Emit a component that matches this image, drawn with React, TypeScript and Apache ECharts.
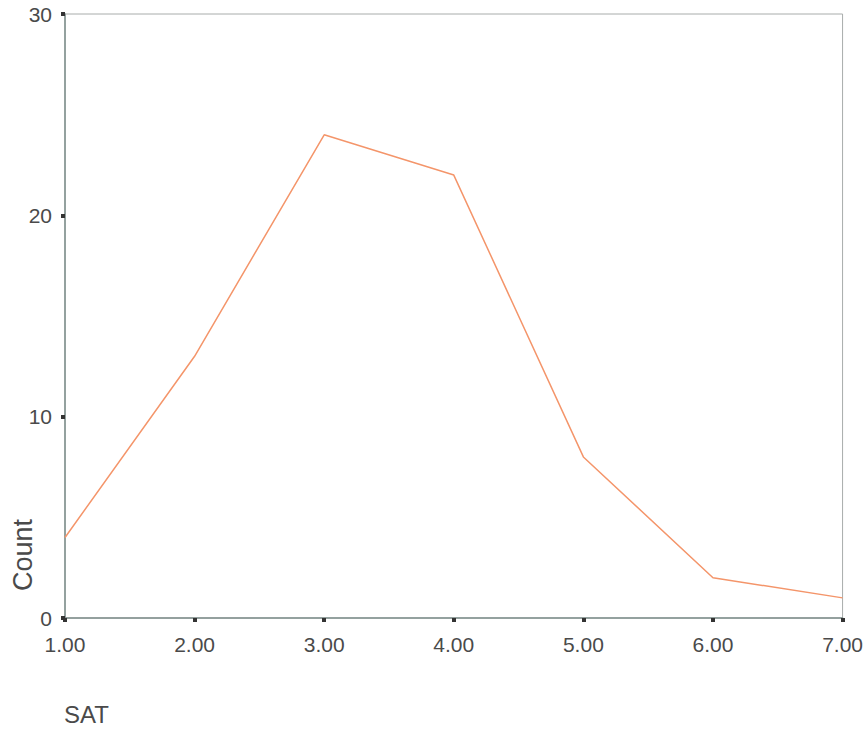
import React, { useEffect, useRef } from "react";
import * as echarts from "echarts";

const satValues = [1, 2, 3, 4, 5, 6, 7];
const counts = [4, 13, 24, 22, 8, 2, 1];
const xAxisTitle = "SAT";
const yAxisTitle = "Count";

export default function App() {
  const ref = useRef<HTMLDivElement>(null);
  useEffect(() => {
    if (!ref.current) return;
    const chart = echarts.init(ref.current, undefined, { renderer: "svg" });
    const font = "'Liberation Sans', Arial, sans-serif";
    const textColor = "#4a4a4a";
    chart.setOption({
      animation: false,
      backgroundColor: "#ffffff",
      grid: {
        left: 65,
        top: 14,
        right: 16,
        bottom: 111,
        show: true,
        borderColor: "#a8acab",
        borderWidth: 1,
      },
      xAxis: {
        type: "value",
        min: 1,
        max: 7,
        interval: 1,
        splitLine: { show: false },
        axisLine: { show: true, onZero: false, lineStyle: { color: "#7f8f8c", width: 1.5 } },
        axisTick: { show: true, length: 4, lineStyle: { color: "#333", width: 4 } },
        axisLabel: {
          margin: 16,
          fontSize: 21,
          color: textColor,
          fontFamily: font,
          formatter: (v: number) => v.toFixed(2),
        },
      },
      yAxis: {
        type: "value",
        min: 0,
        max: 30,
        interval: 10,
        splitLine: { show: false },
        axisLine: { show: true, lineStyle: { color: "#7f8f8c", width: 1.5 } },
        axisTick: { show: true, length: 4, lineStyle: { color: "#333", width: 4 } },
        axisLabel: { margin: 13, fontSize: 21, color: textColor, fontFamily: font },
      },
      graphic: [
        {
          type: "text",
          x: 23,
          y: 555,
          rotation: Math.PI / 2,
          style: {
            text: yAxisTitle,
            fontSize: 27,
            fill: textColor,
            fontFamily: font,
            textAlign: "center",
            textVerticalAlign: "middle",
          },
        },
        {
          type: "text",
          x: 64,
          y: 714,
          style: {
            text: xAxisTitle,
            fontSize: 24,
            fill: textColor,
            fontFamily: font,
            textAlign: "left",
            textVerticalAlign: "middle",
          },
        },
      ],
      series: [
        {
          type: "line",
          data: satValues.map((x, i) => [x, counts[i]]),
          showSymbol: false,
          lineStyle: { color: "#f4956a", width: 1.5 },
          itemStyle: { color: "#f4956a" },
        },
      ],
    });
    return () => chart.dispose();
  }, []);
  return (
    <div
      ref={ref}
      style={{ position: "fixed", left: 0, top: 0, width: 866, height: 729 }}
    />
  );
}
